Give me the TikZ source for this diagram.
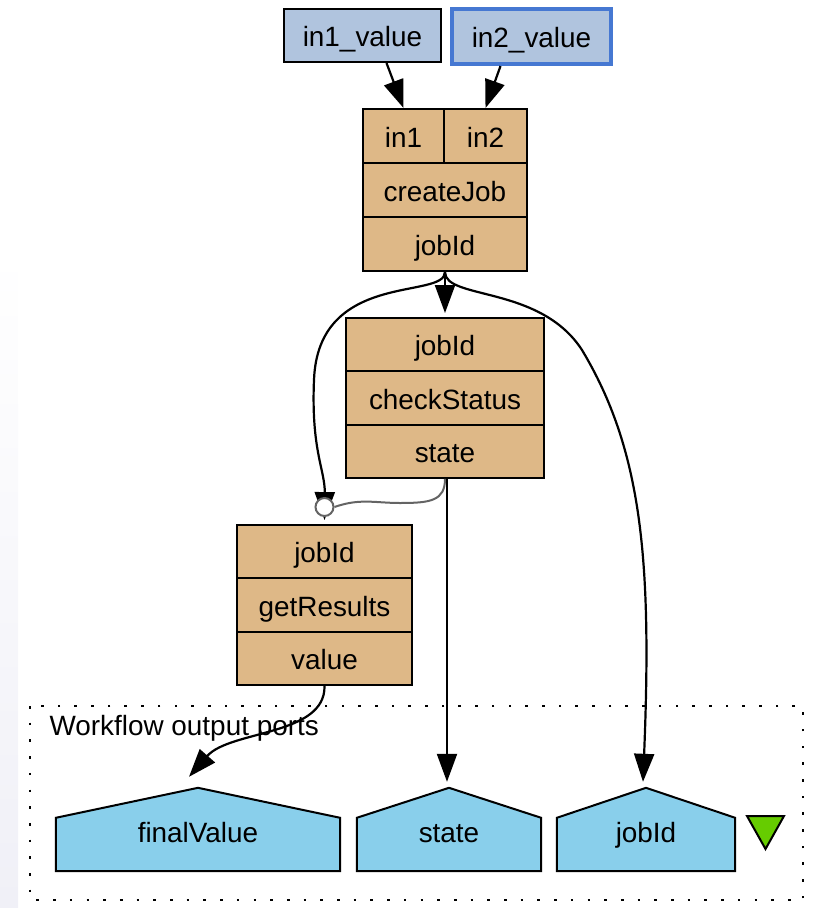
\documentclass[tikz,border=0pt]{standalone}
\usepackage{fontspec}
\setmainfont{Liberation Sans}
\usetikzlibrary{arrows.meta,backgrounds}
\definecolor{portfill}{RGB}{222,184,135}
\definecolor{inputfill}{RGB}{176,196,222}
\definecolor{inputedge}{RGB}{70,120,210}
\definecolor{outputfill}{RGB}{137,207,235}
\definecolor{linkgray}{RGB}{100,100,100}
\definecolor{marker}{RGB}{102,204,0}
\tikzstyle{cell}=[draw, fill=portfill, line width=2pt, inner sep=0pt, text height=22pt, text depth=0pt]
\tikzset{wfinput/.style={draw, fill=inputfill, line width=2pt, inner sep=0pt, text height=22pt, text depth=0pt}}
\tikzset{wfoutput/.style={inner sep=0pt, text height=26pt, text depth=0pt}}
\tikzset{datalink/.style={-{Triangle[length=28pt,width=20pt]}, line width=2.2pt}}
\tikzset{ctrllink/.style={line width=2pt, color=linkgray}}
\tikzset{outport/.style={fill=outputfill, draw, line width=2pt, line join=miter}}

\begin{document}
\begin{tikzpicture}[x=1pt, y=-1pt, every node/.style={font=\fontsize{27.9}{33}\selectfont}]
  \useasboundingbox (0,0) rectangle (813,908);

  %% workflow inputs
  \draw (362.5,35.5) node[wfinput, minimum width=157pt, minimum height=53pt] (in1v) {in1\_value};
  \draw (531.5,36.5) node[wfinput, draw=inputedge, line width=4pt, minimum width=159pt, minimum height=55pt] (in2v) {in2\_value};

  %% createJob
  \draw (403.5,136) node[cell, minimum width=81pt, minimum height=54pt] (cjIn1) {in1};
  \draw (485.5,136) node[cell, minimum width=83pt, minimum height=54pt] (cjIn2) {in2};
  \draw (445,190) node[cell, minimum width=164pt, minimum height=54pt] (cjName) {createJob};
  \draw (445,244) node[cell, minimum width=164pt, minimum height=54pt] (cjOut) {jobId};

  %% checkStatus
  \draw (445,344.7) node[cell, minimum width=198pt, minimum height=53.3pt] (csIn) {jobId};
  \draw (445,398) node[cell, minimum width=198pt, minimum height=53.3pt] (csName) {checkStatus};
  \draw (445,451.3) node[cell, minimum width=198pt, minimum height=53.3pt] (csOut) {state};

  %% getResults
  \draw (324.5,551.7) node[cell, minimum width=175pt, minimum height=53.3pt] (grIn) {jobId};
  \draw (324.5,605) node[cell, minimum width=175pt, minimum height=53.3pt] (grName) {getResults};
  \draw (324.5,658.3) node[cell, minimum width=175pt, minimum height=53.3pt] (grOut) {value};

  %% workflow outputs
  \draw (46,735) node[anchor=base west] (outLabel) {Workflow output ports};
  \draw (198,829.5) node[wfoutput, minimum width=284pt, minimum height=83pt] (oFinal) {finalValue};
  \draw (449,829.5) node[wfoutput, minimum width=184pt, minimum height=83pt] (oState) {state};
  \draw (646,829.5) node[wfoutput, minimum width=178pt, minimum height=83pt] (oJob) {jobId};
  \filldraw[fill=marker, line width=2pt, line join=miter] (747,816) -- (784,816) -- (765.5,849) -- cycle;

  \begin{scope}[on background layer]
    \shade[top color=white, bottom color={rgb,255:red,240;green,240;blue,247}] (0,250) rectangle (18,908);
    \draw[line width=2.6pt, dash pattern=on 2.6pt off 14.1pt] (30,706) rectangle (803,900);
    \draw[outport] (oFinal.south west) -- ([yshift=-30pt]oFinal.north west) -- (oFinal.north) -- ([yshift=-30pt]oFinal.north east) -- (oFinal.south east) -- cycle;
    \draw[outport] (oState.south west) -- ([yshift=-30pt]oState.north west) -- (oState.north) -- ([yshift=-30pt]oState.north east) -- (oState.south east) -- cycle;
    \draw[outport] (oJob.south west) -- ([yshift=-30pt]oJob.north west) -- (oJob.north) -- ([yshift=-30pt]oJob.north east) -- (oJob.south east) -- cycle;
  \end{scope}

  %% data links
  \draw[datalink] ([xshift=24pt]in1v.south) -- (cjIn1.north);
  \draw[datalink] ([xshift=-31pt]in2v.south) -- (cjIn2.north);
  \draw[datalink] (cjOut.south) -- ([yshift=4pt]csIn.north);
  \draw[datalink] (cjOut.south) .. controls +(0,28) and (318,270) .. (314,380) .. controls (311,450) and (325,470) .. ([yshift=4pt]grIn.north);
  \draw[datalink] (cjOut.south) .. controls +(0,28) and (540,285) .. (582,350) .. controls (642,450) and (652,560) .. ([xshift=-3pt,yshift=6pt]oJob.north);
  \draw[datalink] ([xshift=2pt]csOut.south) -- ([xshift=-2pt,yshift=6pt]oState.north);
  \draw[datalink] (grOut.south) .. controls +(1,50) and (230,730) .. ([shift={(-9pt,11pt)}]oFinal.north);

  %% control link
  \draw (324.5,507) node[circle, draw=linkgray, fill=white, line width=2pt, minimum size=18pt, inner sep=0pt] (grCtl) {};
  \draw[ctrllink] (csOut.south) .. controls +(0,22) and (430,503) .. (400,503) .. controls (375,503) and (360,498) .. (grCtl.east);
\end{tikzpicture}
\end{document}
